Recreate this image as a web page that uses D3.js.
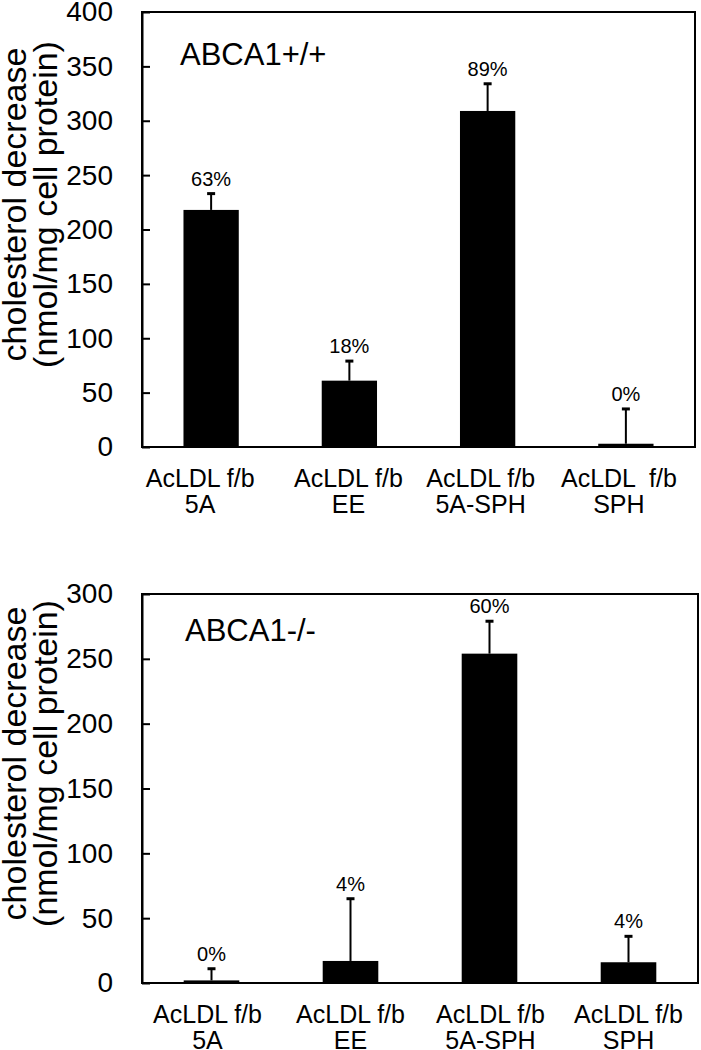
<!DOCTYPE html>
<html>
<head>
<meta charset="utf-8">
<script src="https://cdn.jsdelivr.net/npm/d3@7"></script>
<style>
  body { margin: 0; background: #fff; }
  svg { display: block; }
  text { font-family: "Liberation Sans", Arial, sans-serif; fill: #000; }
</style>
</head>
<body>
<svg id="chart" width="701" height="1050"></svg>
<script>
// ---- data ----
const catsTop = [["AcLDL f/b", "5A"], ["AcLDL f/b", "EE"], ["AcLDL f/b", "5A-SPH"], ["AcLDL  f/b", "SPH"]];
const catsBottom = [["AcLDL f/b", "5A"], ["AcLDL f/b", "EE"], ["AcLDL f/b", "5A-SPH"], ["AcLDL f/b", "SPH"]];
const valuesTop = [218, 61, 309, 3];
const errorsTop = [15, 18, 25, 32];
const pctTop = ["63%", "18%", "89%", "0%"];
const valuesBottom = [2, 17, 254, 16];
const errorsBottom = [9, 48, 25, 20];
const pctBottom = ["0%", "4%", "60%", "4%"];
const ticksTop = [0, 50, 100, 150, 200, 250, 300, 350, 400];
const ticksBottom = [0, 50, 100, 150, 200, 250, 300];
const titleTop = "ABCA1+/+";
const titleBottom = "ABCA1-/-";
const yLabel = ["cholesterol decrease", "(nmol/mg cell protein)"];

const svg = d3.select("#chart");
const FONT = '"Liberation Sans", Arial, sans-serif';

function panel(opt) {
  const g = svg.append("g");
  const ids = opt.cats.map((c, i) => i);
  const x = d3.scaleBand().domain(ids).range([opt.left, opt.right]).paddingInner(0.6).paddingOuter(0.3);
  const y = d3.scaleLinear().domain([0, opt.max]).range([opt.bottom, opt.top]);
  const cx = i => x(i) + x.bandwidth() / 2;

  // bars
  g.selectAll("rect.bar").data(opt.values).join("rect")
    .attr("x", (d, i) => x(i))
    .attr("width", x.bandwidth())
    .attr("y", d => y(d))
    .attr("height", d => y(0) - y(d))
    .attr("fill", "#000");

  // error bars (upper only)
  g.selectAll("line.err").data(opt.values).join("line")
    .attr("x1", (d, i) => cx(i)).attr("x2", (d, i) => cx(i))
    .attr("y1", d => y(d))
    .attr("y2", (d, i) => y(d + opt.errors[i]))
    .attr("stroke", "#000").attr("stroke-width", 2);
  g.selectAll("line.cap").data(opt.values).join("line")
    .attr("x1", (d, i) => cx(i) - 4).attr("x2", (d, i) => cx(i) + 4)
    .attr("y1", (d, i) => y(d + opt.errors[i]))
    .attr("y2", (d, i) => y(d + opt.errors[i]))
    .attr("stroke", "#000").attr("stroke-width", 3);

  // percent labels
  g.selectAll("text.pct").data(opt.pct).join("text")
    .attr("x", (d, i) => cx(i))
    .attr("y", (d, i) => y(opt.values[i] + opt.errors[i]) - 8)
    .attr("text-anchor", "middle")
    .attr("font-size", 20)
    .text(d => d);

  // frame
  g.append("path")
    .attr("d", `M${opt.left},${opt.top}H${opt.right}V${opt.bottom}H${opt.left}Z`)
    .attr("fill", "none").attr("stroke", "#000").attr("stroke-width", 2);

  // y axis
  const ya = g.append("g").attr("transform", `translate(${opt.left},0)`)
    .call(d3.axisLeft(y).tickValues(opt.ticks).tickSizeInner(-8).tickSizeOuter(0).tickPadding(29));
  ya.select(".domain").attr("stroke-width", 2);
  ya.selectAll(".tick line").attr("stroke-width", 2);
  ya.selectAll(".tick text").attr("font-size", 28).attr("font-family", FONT);

  // x axis labels
  const xa = g.append("g").attr("transform", `translate(0,${opt.bottom})`)
    .call(d3.axisBottom(x).tickSize(0).tickFormat(""));
  xa.select(".domain").remove();
  xa.selectAll(".tick").each(function(d) {
    const t = d3.select(this).append("text")
      .attr("text-anchor", "middle")
      .attr("font-size", 25)
      .attr("font-family", FONT)
      .attr("fill", "#000")
      .style("white-space", "pre");
    t.append("tspan").attr("x", opt.labelShift[d]).attr("y", 40).text(opt.cats[d][0]);
    t.append("tspan").attr("x", opt.labelShift[d]).attr("y", 66).text(opt.cats[d][1]);
  });

  // title
  g.append("text").attr("x", opt.titleX).attr("y", opt.titleY)
    .attr("font-size", 31).text(opt.title);

  // y label
  const cy = (opt.top + opt.bottom) / 2 - 25;
  const yl = g.append("text")
    .attr("transform", `translate(0,${cy}) rotate(-90)`)
    .attr("text-anchor", "middle")
    .attr("font-size", 34);
  yl.append("tspan").attr("x", 0).attr("y", 26).text(yLabel[0]);
  yl.append("tspan").attr("x", 0).attr("y", 57).text(yLabel[1]);
}

panel({ cats: catsTop, values: valuesTop, errors: errorsTop, pct: pctTop, ticks: ticksTop,
  max: 400, left: 142, right: 695, top: 12, bottom: 447, title: titleTop, titleX: 180, titleY: 65,
  labelShift: [-11, -1, -7, -7] });
panel({ cats: catsBottom, values: valuesBottom, errors: errorsBottom, pct: pctBottom, ticks: ticksBottom,
  max: 300, left: 142, right: 698, top: 594, bottom: 983, title: titleBottom, titleX: 185, titleY: 641,
  labelShift: [-4, 0, 1, 0] });
</script>
</body>
</html>
